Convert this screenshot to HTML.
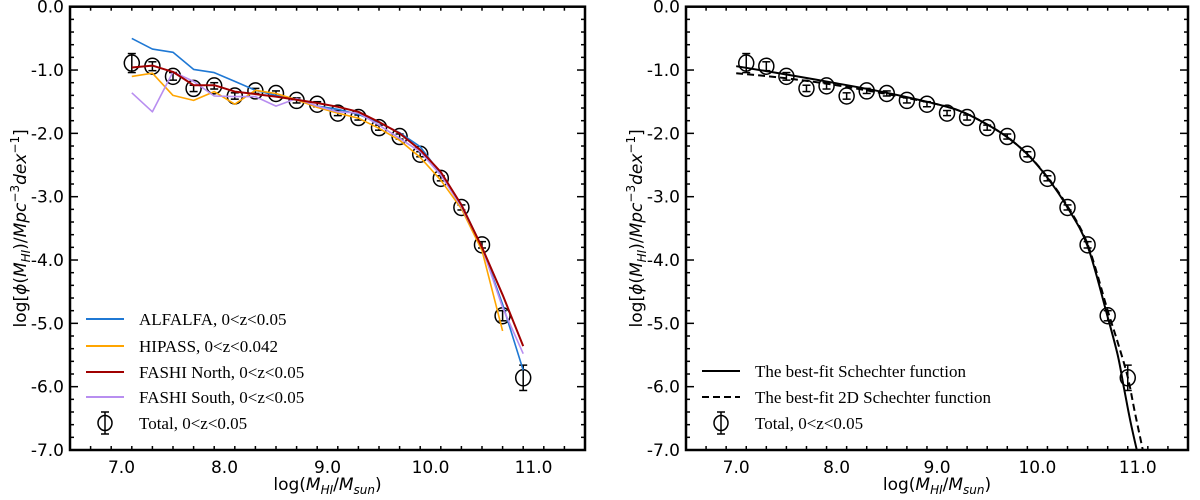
<!DOCTYPE html>
<html><head><meta charset="utf-8">
<style>
body{margin:0;background:#fff;}
svg{display:block;}
.tk{font-family:"DejaVu Sans",sans-serif;font-size:17px;fill:#000;}
.lg{font-family:"Liberation Serif",serif;font-size:17px;fill:#000;}
.at{font-family:"DejaVu Sans",sans-serif;font-size:17px;fill:#000;}
</style></head>
<body>
<svg id="chart" width="1200" height="500" viewBox="0 0 1200 500" xmlns="http://www.w3.org/2000/svg"></svg>
<script>
const massBins=[7.1,7.3,7.5,7.7,7.9,8.1,8.3,8.5,8.7,8.9,9.1,9.3,9.5,9.7,9.9,10.1,10.3,10.5,10.7,10.9];
const totalVals=[-0.89,-0.94,-1.10,-1.29,-1.25,-1.41,-1.33,-1.37,-1.48,-1.54,-1.68,-1.75,-1.91,-2.05,-2.33,-2.71,-3.17,-3.76,-4.88,-5.86];
const totalErr=[0.15,0.07,0.06,0.05,0.05,0.05,0.04,0.04,0.04,0.04,0.04,0.04,0.04,0.04,0.04,0.04,0.04,0.05,0.08,0.2];
const alfalfaVals=[-0.50,-0.67,-0.72,-0.99,-1.04,-1.18,-1.32,-1.40,-1.47,-1.57,-1.62,-1.70,-1.83,-1.99,-2.21,-2.64,-3.12,-3.80,-4.70,-5.74];
const hipassVals=[-1.10,-1.05,-1.40,-1.48,-1.34,-1.54,-1.32,-1.37,-1.47,-1.59,-1.68,-1.76,-1.92,-2.11,-2.38,-2.74,-3.19,-3.85,-5.12];
const northVals=[-0.96,-0.93,-1.03,-1.24,-1.24,-1.34,-1.38,-1.42,-1.47,-1.52,-1.58,-1.66,-1.82,-2.00,-2.26,-2.61,-3.13,-3.80,-4.55,-5.36];
const southVals=[-1.36,-1.66,-1.03,-1.18,-1.41,-1.42,-1.42,-1.57,-1.45,-1.57,-1.66,-1.68,-1.87,-2.08,-2.29,-2.66,-3.16,-3.80,-4.75,-5.48];
const fitX=[7.0,7.5,8.0,8.5,9.0,9.25,9.5,9.7,9.9,10.1,10.3,10.5,10.7,10.8,10.86,10.92,10.99];
const fitY=[-0.94,-1.07,-1.21,-1.36,-1.54,-1.66,-1.86,-2.06,-2.33,-2.70,-3.17,-3.78,-4.90,-5.50,-6.00,-6.50,-7.00];
const fit2dX=[7.0,7.5,8.0,8.5,9.0,9.25,9.5,9.7,9.9,10.1,10.3,10.5,10.7,10.8,10.9,10.97,11.05];
const fit2dY=[-1.05,-1.13,-1.24,-1.38,-1.54,-1.66,-1.86,-2.06,-2.33,-2.69,-3.15,-3.75,-4.80,-5.30,-5.85,-6.40,-7.00];
const xTicks=["7.0","8.0","9.0","10.0","11.0"];
const yTicks=["0.0","-1.0","-2.0","-3.0","-4.0","-5.0","-6.0","-7.0"];

const NS="http://www.w3.org/2000/svg";
const svg=document.getElementById('chart');
function mk(tag,attrs,parent){const e=document.createElementNS(NS,tag);for(const k in attrs)e.setAttribute(k,attrs[k]);(parent||svg).appendChild(e);return e;}

function panel(L,R,name){
  const T=6.7,B=450,x0=6.5,x1=11.5,y0=0,y1=-7;
  const g=mk('g',{});
  
  
  const sx=v=>L+(v-x0)/(x1-x0)*(R-L);
  const sy=v=>T+(v-y0)/(y1-y0)*(B-T);
  for(let i=0;i<=25;i++){const v=6.5+i*0.2;if(v>11.5)break;const X=sx(v);const maj=Math.abs(v-Math.round(v))<0.01;const len=maj?8:4;
    mk('line',{x1:X,y1:B,x2:X,y2:B-len,stroke:'#000','stroke-width':1.5},g);
    mk('line',{x1:X,y1:T,x2:X,y2:T+len,stroke:'#000','stroke-width':1.5},g);}
  for(let i=0;i<=35;i++){const v=-i*0.2;const Y=sy(v);const maj=Math.abs(v-Math.round(v))<0.01;const len=maj?8:4;
    mk('line',{x1:L,y1:Y,x2:L+len,y2:Y,stroke:'#000','stroke-width':1.5},g);
    mk('line',{x1:R,y1:Y,x2:R-len,y2:Y,stroke:'#000','stroke-width':1.5},g);}
  xTicks.forEach(t=>{const e=mk('text',{x:sx(parseFloat(t)),y:B+23,'text-anchor':'middle',class:'tk'},g);e.textContent=t;
    });
  yTicks.forEach(t=>{const e=mk('text',{x:L-6,y:sy(parseFloat(t))+6,'text-anchor':'end',class:'tk'},g);e.textContent=t;
    });
  const fr=mk('rect',{x:L,y:T,width:R-L,height:B-T,fill:'none',stroke:'#000','stroke-width':2.5},g);
  
  const xt=mk('text',{x:(L+R)/2,y:490,'text-anchor':'middle',class:'at'},g);
  
  xt.innerHTML='log(<tspan font-style="italic">M</tspan><tspan font-style="italic" font-size="12" dy="4">HI</tspan><tspan dy="-4">/</tspan><tspan font-style="italic">M</tspan><tspan font-style="italic" font-size="12" dy="4">sun</tspan><tspan dy="-4">)</tspan>';
  const yt=mk('text',{x:0,y:0,'text-anchor':'middle',class:'at',transform:`translate(${L-44},${(T+B)/2}) rotate(-90)`},g);
  
  yt.innerHTML='log[<tspan font-style="italic">ϕ</tspan>(<tspan font-style="italic">M</tspan><tspan font-style="italic" font-size="12" dy="4">HI</tspan><tspan dy="-4">)/</tspan><tspan font-style="italic">Mpc</tspan><tspan font-size="12" dy="-7">−3</tspan><tspan font-style="italic" dy="7">dex</tspan><tspan font-size="12" dy="-7">−1</tspan><tspan dy="7">]</tspan>';
  return {g,sx,sy};
}

function series(p,xs,ys,color,w,dash,name,smooth){
  const P=ys.map((v,i)=>[p.sx(xs[i]),p.sy(v)]);
  let d='M'+P[0][0].toFixed(1)+','+P[0][1].toFixed(1);
  for(let i=0;i<P.length-1;i++){
    if(!smooth){d+=' L'+P[i+1][0].toFixed(1)+','+P[i+1][1].toFixed(1);continue;}
    const p0=P[Math.max(0,i-1)],p1=P[i],p2=P[i+1],p3=P[Math.min(P.length-1,i+2)];
    const c1=[p1[0]+(p2[0]-p0[0])/6,p1[1]+(p2[1]-p0[1])/6];
    const c2=[p2[0]-(p3[0]-p1[0])/6,p2[1]-(p3[1]-p1[1])/6];
    d+=' C'+c1.map(v=>v.toFixed(1)).join(',')+' '+c2.map(v=>v.toFixed(1)).join(',')+' '+p2.map(v=>v.toFixed(1)).join(',');
  }
  const e=mk('path',{d,fill:'none',stroke:color,'stroke-width':w,'stroke-dasharray':dash||'none','stroke-linejoin':'round'},p.g);
  
  
}
function points(p){
  massBins.forEach((x,i)=>{const X=p.sx(x),Y=p.sy(totalVals[i]);const Y1=p.sy(totalVals[i]+totalErr[i]),Y2=p.sy(totalVals[i]-totalErr[i]);
    const g=mk('g',{},p.g);
    
    
    mk('line',{x1:X,y1:Y1,x2:X,y2:Y2,stroke:'#000','stroke-width':1.5},g);
    mk('line',{x1:X-4,y1:Y1,x2:X+4,y2:Y1,stroke:'#000','stroke-width':1.5},g);
    mk('line',{x1:X-4,y1:Y2,x2:X+4,y2:Y2,stroke:'#000','stroke-width':1.5},g);
    mk('ellipse',{cx:X,cy:Y,rx:7.5,ry:8,fill:'none',stroke:'#000','stroke-width':1.5},g);});
}
function legendLine(g,x,y,color,dash,label,name){
  const lg=mk('g',{},g);
  
  
  mk('line',{x1:x,y1:y,x2:x+38,y2:y,stroke:color,'stroke-width':2,'stroke-dasharray':dash||'none'},lg);
  const t=mk('text',{x:x+53,y:y+6,class:'lg'},lg);t.textContent=label;
}
function legendPoint(g,x,y,label){
  const lg=mk('g',{},g);
  
  
  const X=x+19;
  mk('line',{x1:X,y1:y-11,x2:X,y2:y+11,stroke:'#000','stroke-width':1.5},lg);
  mk('line',{x1:X-4,y1:y-11,x2:X+4,y2:y-11,stroke:'#000','stroke-width':1.5},lg);
  mk('line',{x1:X-4,y1:y+11,x2:X+4,y2:y+11,stroke:'#000','stroke-width':1.5},lg);
  mk('ellipse',{cx:X,cy:y,rx:7,ry:7.5,fill:'none',stroke:'#000','stroke-width':1.5},lg);
  const t=mk('text',{x:x+53,y:y+6,class:'lg'},lg);t.textContent=label;
}

const pL=panel(70,585,'left-panel');
points(pL);
series(pL,massBins,alfalfaVals,'#1f78d4',1.6,null,'alfalfa-line',false);
series(pL,massBins,hipassVals,'#ffa500',1.6,null,'hipass-line',false);
series(pL,massBins,southVals,'#b88ef0',1.6,null,'fashi-south-line',false);
series(pL,massBins,northVals,'#a00000',2,null,'fashi-north-line',false);
legendLine(pL.g,86,319,'#1f78d4',null,'ALFALFA, 0<z<0.05','legend-entry-alfalfa');
legendLine(pL.g,86,346,'#ffa500',null,'HIPASS, 0<z<0.042','legend-entry-hipass');
legendLine(pL.g,86,372,'#a00000',null,'FASHI North, 0<z<0.05','legend-entry-fashi-north');
legendLine(pL.g,86,397,'#b88ef0',null,'FASHI South, 0<z<0.05','legend-entry-fashi-south');
legendPoint(pL.g,86,423,'Total, 0<z<0.05');

const pR=panel(686,1188,'right-panel');
points(pR);
series(pR,fitX,fitY,'#000',2,null,'schechter-fit-line',true);
series(pR,fit2dX,fit2dY,'#000',2,'7,4','schechter-2d-fit-line',true);
legendLine(pR.g,702,371,'#000',null,'The best-fit Schechter function','legend-entry-schechter');
legendLine(pR.g,702,397,'#000','7,4','The best-fit 2D Schechter function','legend-entry-2d-schechter');
legendPoint(pR.g,702,423,'Total, 0<z<0.05');
</script>
</body></html>
